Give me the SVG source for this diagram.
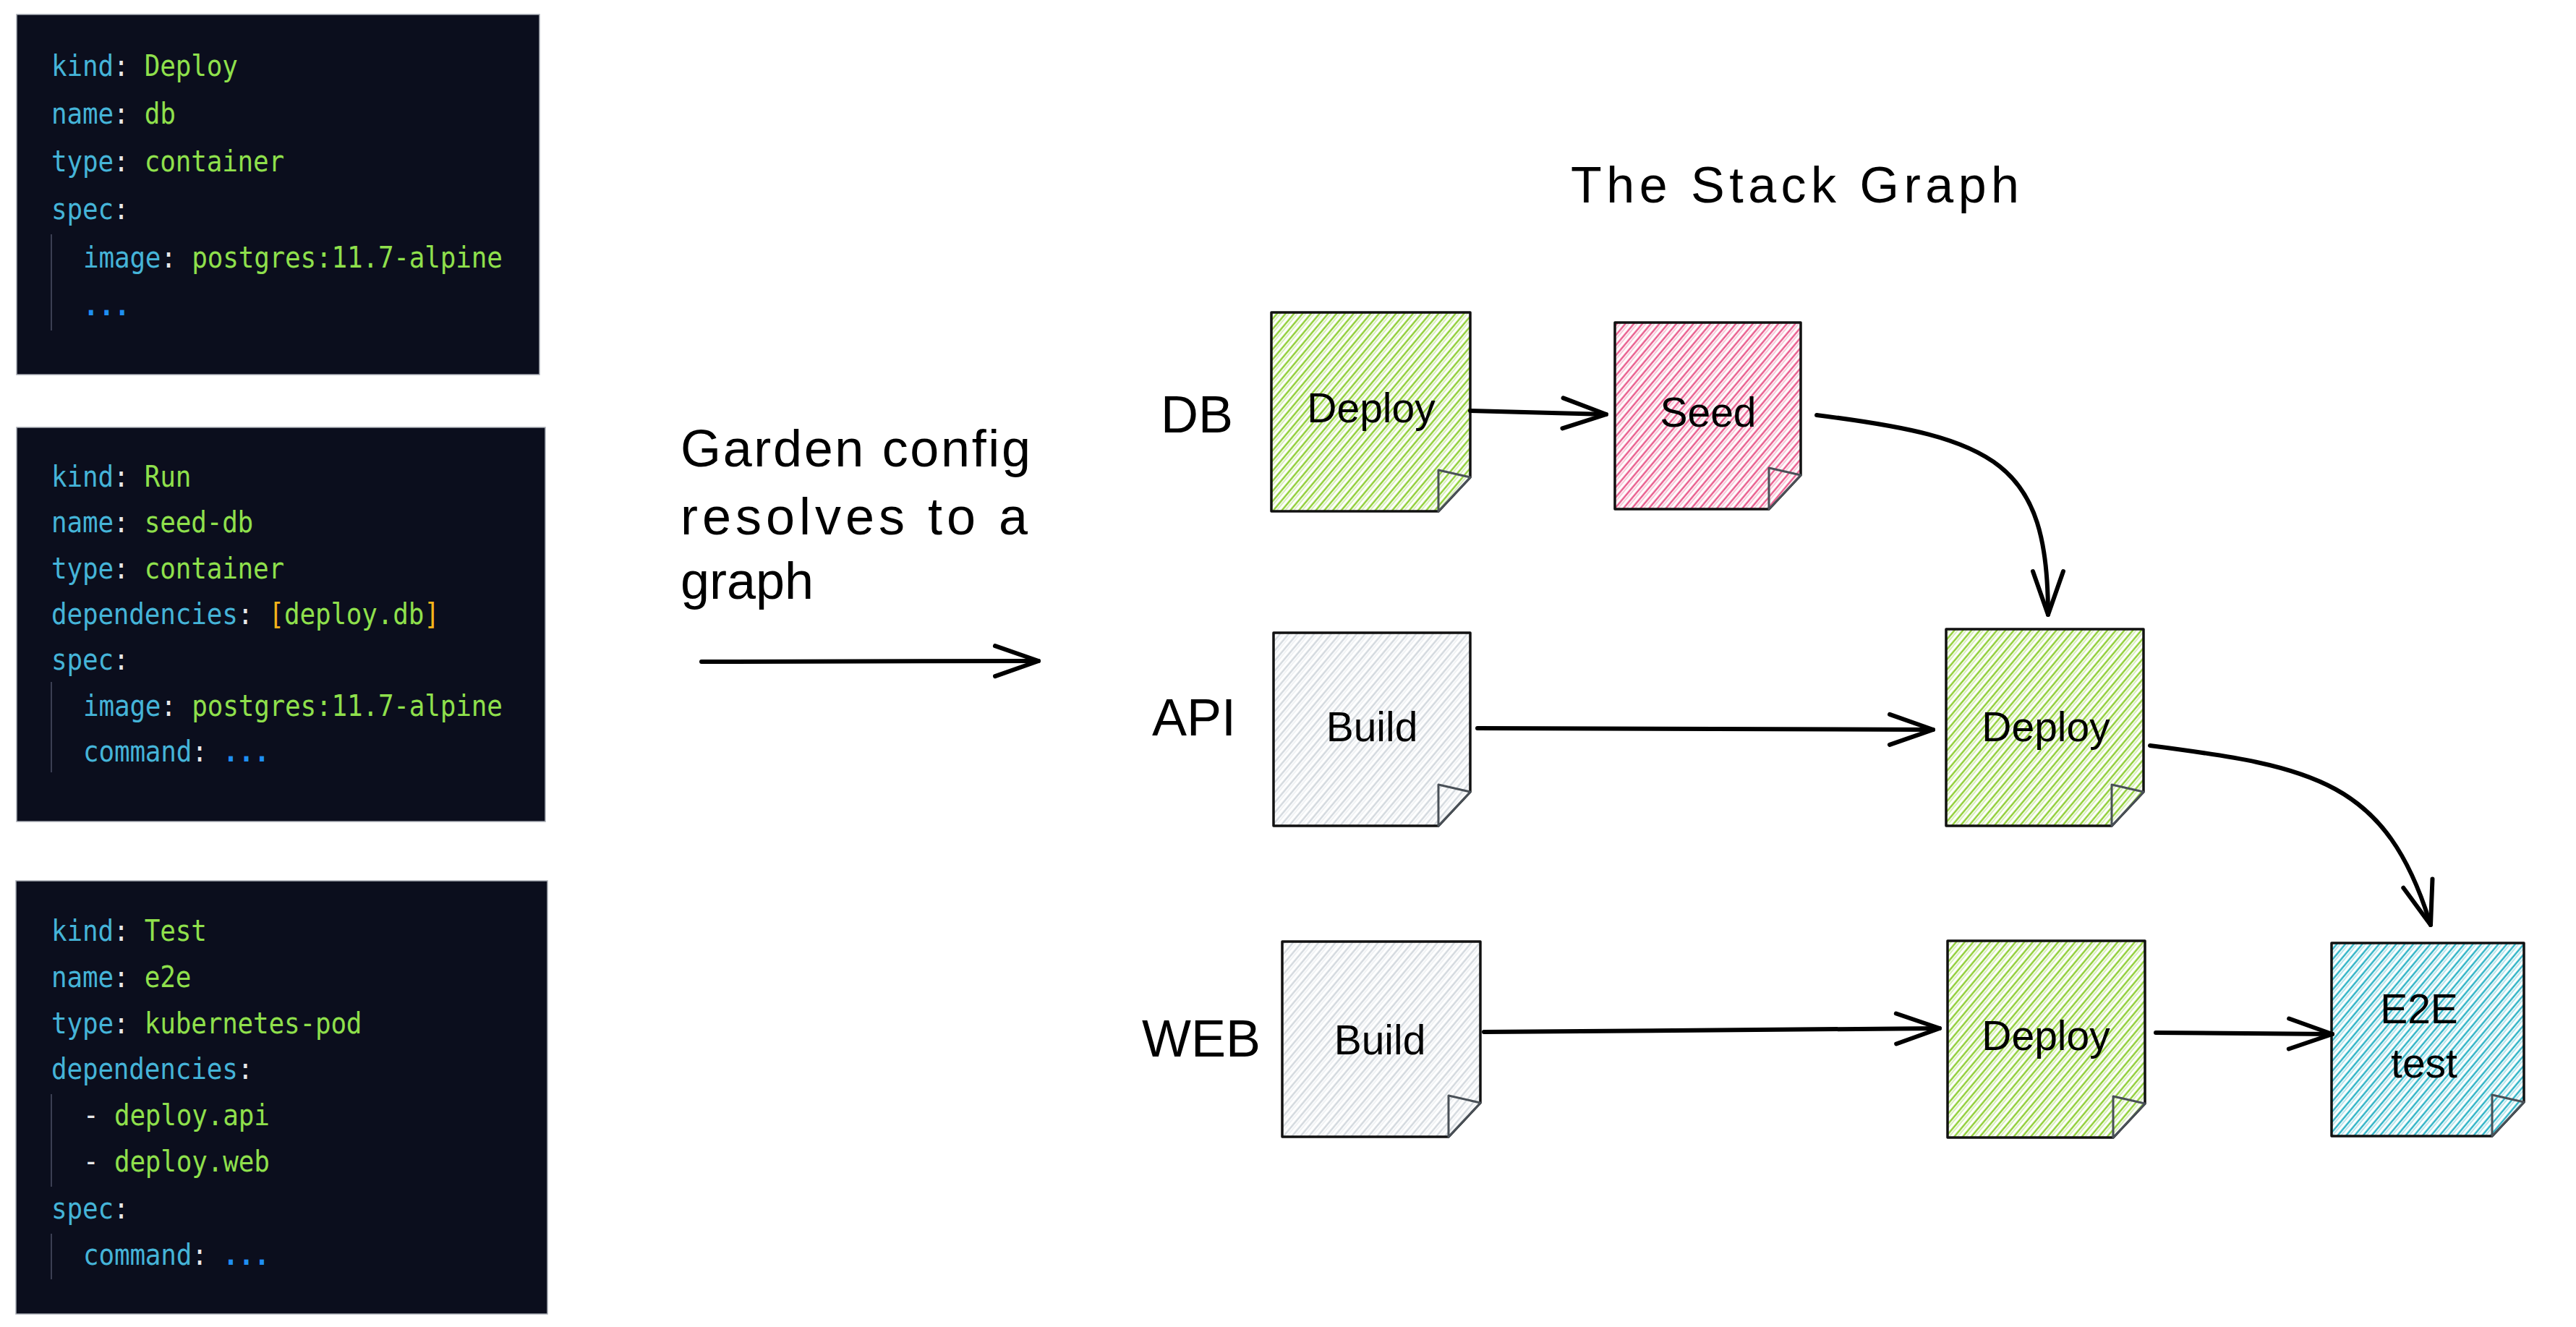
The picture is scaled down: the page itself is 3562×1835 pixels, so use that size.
<svg xmlns="http://www.w3.org/2000/svg" width="3562" height="1835" viewBox="0 0 3562 1835">
<style>
.codebox{fill:#0b0e1d;stroke:#a9adb5;stroke-width:1.5}
.code{font-family:"DejaVu Sans Mono","Liberation Mono",monospace;font-size:36px;letter-spacing:-0.2px;white-space:pre}
.k{fill:#45b4d8}.p{fill:#e8e8e8}.v{fill:#8fe04c}.b{fill:#f4b41a}.d{fill:#1f8ff2;font-weight:bold}
.guide{stroke:#3b3f52;stroke-width:2}
.hand{font-family:"Liberation Sans","Open Sans",sans-serif;fill:#000}
.lbl{font-size:72px}
.ntx{font-size:57px;text-anchor:middle}
.note{stroke:#111;stroke-width:3.5;stroke-linejoin:round}
.fold{stroke:#495057;stroke-width:3;stroke-linejoin:round}
.edge{fill:none;stroke:#000;stroke-width:6;stroke-linecap:round;marker-end:url(#chev)}
</style>
<defs>
<marker id="chev" markerUnits="userSpaceOnUse" markerWidth="10" markerHeight="10" refX="0" refY="0" orient="auto" overflow="visible">
<path d="M-60,-21 L0,0 L-60,21" fill="none" stroke="#000" stroke-width="6" stroke-linecap="round" stroke-linejoin="round"/>
</marker>
<pattern id="hGreen" patternUnits="userSpaceOnUse" width="9" height="9" patternTransform="rotate(40)"><rect width="9" height="9" fill="#fff"/><line x1="2.5" y1="0" x2="2.5" y2="9" stroke="#82c91e" stroke-width="2.2"/><line x1="6" y1="0" x2="6" y2="9" stroke="#82c91e" stroke-width="1" opacity="0.6"/></pattern>
<pattern id="hPink" patternUnits="userSpaceOnUse" width="9" height="9" patternTransform="rotate(40)"><rect width="9" height="9" fill="#fff"/><line x1="2.5" y1="0" x2="2.5" y2="9" stroke="#e64980" stroke-width="2.2"/><line x1="6" y1="0" x2="6" y2="9" stroke="#e64980" stroke-width="1" opacity="0.6"/></pattern>
<pattern id="hGray" patternUnits="userSpaceOnUse" width="9" height="9" patternTransform="rotate(40)"><rect width="9" height="9" fill="#fff"/><line x1="2.5" y1="0" x2="2.5" y2="9" stroke="#ced4da" stroke-width="2.2"/><line x1="6" y1="0" x2="6" y2="9" stroke="#ced4da" stroke-width="1" opacity="0.6"/></pattern>
<pattern id="hCyan" patternUnits="userSpaceOnUse" width="9" height="9" patternTransform="rotate(40)"><rect width="9" height="9" fill="#fff"/><line x1="2.5" y1="0" x2="2.5" y2="9" stroke="#15aabf" stroke-width="2.2"/><line x1="6" y1="0" x2="6" y2="9" stroke="#15aabf" stroke-width="1" opacity="0.6"/></pattern>
</defs>
<rect width="3562" height="1835" fill="#fff"/>

<g id="code-deploy-db">
<rect class="codebox" x="23" y="20" width="723" height="498"/>
<line class="guide" x1="71" y1="324" x2="71" y2="457"/>
<text class="code" transform="translate(71,105) scale(1,1.15)"><tspan class="k">kind</tspan><tspan class="p">:</tspan><tspan class="v"> Deploy</tspan></text>
<text class="code" transform="translate(71,171) scale(1,1.15)"><tspan class="k">name</tspan><tspan class="p">:</tspan><tspan class="v"> db</tspan></text>
<text class="code" transform="translate(71,237) scale(1,1.15)"><tspan class="k">type</tspan><tspan class="p">:</tspan><tspan class="v"> container</tspan></text>
<text class="code" transform="translate(71,303) scale(1,1.15)"><tspan class="k">spec</tspan><tspan class="p">:</tspan></text>
<text class="code" transform="translate(115,370) scale(1,1.15)"><tspan class="k">image</tspan><tspan class="p">:</tspan><tspan class="v"> postgres:11.7-alpine</tspan></text>
<text class="code" transform="translate(115,436) scale(1,1.15)"><tspan class="d">...</tspan></text>
</g>

<g id="code-run-seed-db">
<rect class="codebox" x="23" y="591" width="731" height="545"/>
<line class="guide" x1="71" y1="943" x2="71" y2="1068"/>
<text class="code" transform="translate(71,673) scale(1,1.15)"><tspan class="k">kind</tspan><tspan class="p">:</tspan><tspan class="v"> Run</tspan></text>
<text class="code" transform="translate(71,736) scale(1,1.15)"><tspan class="k">name</tspan><tspan class="p">:</tspan><tspan class="v"> seed-db</tspan></text>
<text class="code" transform="translate(71,800) scale(1,1.15)"><tspan class="k">type</tspan><tspan class="p">:</tspan><tspan class="v"> container</tspan></text>
<text class="code" transform="translate(71,863) scale(1,1.15)"><tspan class="k">dependencies</tspan><tspan class="p">: </tspan><tspan class="b">[</tspan><tspan class="v">deploy.db</tspan><tspan class="b">]</tspan></text>
<text class="code" transform="translate(71,926) scale(1,1.15)"><tspan class="k">spec</tspan><tspan class="p">:</tspan></text>
<text class="code" transform="translate(115,990) scale(1,1.15)"><tspan class="k">image</tspan><tspan class="p">:</tspan><tspan class="v"> postgres:11.7-alpine</tspan></text>
<text class="code" transform="translate(115,1053) scale(1,1.15)"><tspan class="k">command</tspan><tspan class="p">: </tspan><tspan class="d">...</tspan></text>
</g>

<g id="code-test-e2e">
<rect class="codebox" x="22" y="1218" width="735" height="599"/>
<line class="guide" x1="71" y1="1513" x2="71" y2="1641"/>
<line class="guide" x1="71" y1="1706" x2="71" y2="1769"/>
<text class="code" transform="translate(71,1301) scale(1,1.15)"><tspan class="k">kind</tspan><tspan class="p">:</tspan><tspan class="v"> Test</tspan></text>
<text class="code" transform="translate(71,1365) scale(1,1.15)"><tspan class="k">name</tspan><tspan class="p">:</tspan><tspan class="v"> e2e</tspan></text>
<text class="code" transform="translate(71,1429) scale(1,1.15)"><tspan class="k">type</tspan><tspan class="p">:</tspan><tspan class="v"> kubernetes-pod</tspan></text>
<text class="code" transform="translate(71,1492) scale(1,1.15)"><tspan class="k">dependencies</tspan><tspan class="p">:</tspan></text>
<text class="code" transform="translate(115,1556) scale(1,1.15)"><tspan class="p">- </tspan><tspan class="v">deploy.api</tspan></text>
<text class="code" transform="translate(115,1620) scale(1,1.15)"><tspan class="p">- </tspan><tspan class="v">deploy.web</tspan></text>
<text class="code" transform="translate(71,1685) scale(1,1.15)"><tspan class="k">spec</tspan><tspan class="p">:</tspan></text>
<text class="code" transform="translate(115,1749) scale(1,1.15)"><tspan class="k">command</tspan><tspan class="p">: </tspan><tspan class="d">...</tspan></text>
</g>

<g id="caption">
<text class="hand" font-size="72" x="941" y="645" textLength="484" lengthAdjust="spacing">Garden config</text>
<text class="hand" font-size="72" x="941" y="739" textLength="480" lengthAdjust="spacing">resolves to a</text>
<text class="hand" font-size="72" x="941" y="828">graph</text>
</g>

<g id="title">
<text class="hand" font-size="70" x="2172" y="280" textLength="620" lengthAdjust="spacing">The Stack Graph</text>
</g>

<g id="row-labels">
<text class="hand lbl" x="1605" y="598">DB</text>
<text class="hand lbl" x="1593" y="1017">API</text>
<text class="hand lbl" x="1579" y="1461">WEB</text>
</g>

<g id="node-db-deploy">
<path class="note" fill="url(#hGreen)" d="M1758,432 L2033,432 L2033,660 L1989,707 L1758,707 Z"/>
<path class="fold" fill="url(#hGreen)" d="M1989,650 L2033,660 L1989,707 Z"/>
<text class="hand ntx" x="1896" y="584">Deploy</text>
</g>

<g id="node-db-seed">
<path class="note" fill="url(#hPink)" d="M2233,446 L2490,446 L2490,657 L2446,704 L2233,704 Z"/>
<path class="fold" fill="url(#hPink)" d="M2446,647 L2490,657 L2446,704 Z"/>
<text class="hand ntx" x="2362" y="590">Seed</text>
</g>

<g id="node-api-build">
<path class="note" fill="url(#hGray)" d="M1761,875 L2033,875 L2033,1095 L1989,1142 L1761,1142 Z"/>
<path class="fold" fill="url(#hGray)" d="M1989,1085 L2033,1095 L1989,1142 Z"/>
<text class="hand ntx" x="1897" y="1025">Build</text>
</g>

<g id="node-api-deploy">
<path class="note" fill="url(#hGreen)" d="M2691,870 L2964,870 L2964,1095 L2920,1142 L2691,1142 Z"/>
<path class="fold" fill="url(#hGreen)" d="M2920,1085 L2964,1095 L2920,1142 Z"/>
<text class="hand ntx" x="2829" y="1025">Deploy</text>
</g>

<g id="node-web-build">
<path class="note" fill="url(#hGray)" d="M1773,1302 L2047,1302 L2047,1525 L2003,1572 L1773,1572 Z"/>
<path class="fold" fill="url(#hGray)" d="M2003,1515 L2047,1525 L2003,1572 Z"/>
<text class="hand ntx" x="1908" y="1458">Build</text>
</g>

<g id="node-web-deploy">
<path class="note" fill="url(#hGreen)" d="M2693,1301 L2966,1301 L2966,1526 L2922,1573 L2693,1573 Z"/>
<path class="fold" fill="url(#hGreen)" d="M2922,1516 L2966,1526 L2922,1573 Z"/>
<text class="hand ntx" x="2829" y="1452">Deploy</text>
</g>

<g id="node-e2e-test">
<path class="note" fill="url(#hCyan)" d="M3224,1304 L3490,1304 L3490,1524 L3446,1571 L3224,1571 Z"/>
<path class="fold" fill="url(#hCyan)" d="M3446,1514 L3490,1524 L3446,1571 Z"/>
<text class="hand ntx" x="3345" y="1415">E2E</text>
<text class="hand ntx" x="3352" y="1490">test</text>
</g>

<g id="connectors">
<path class="edge" stroke-width="7" d="M970,915 L1436,914"/>
<path class="edge" d="M2033,568 L2221,573"/>
<path class="edge" stroke-width="5" d="M2512,574 C2760,605 2832,640 2832,850"/>
<path class="edge" d="M2043,1007 L2673,1009"/>
<path class="edge" stroke-width="5" d="M2973,1031 C3200,1060 3300,1080 3361,1279"/>
<path class="edge" d="M2052,1427 L2682,1422"/>
<path class="edge" d="M2981,1428 L3225,1430"/>
</g>
</svg>
